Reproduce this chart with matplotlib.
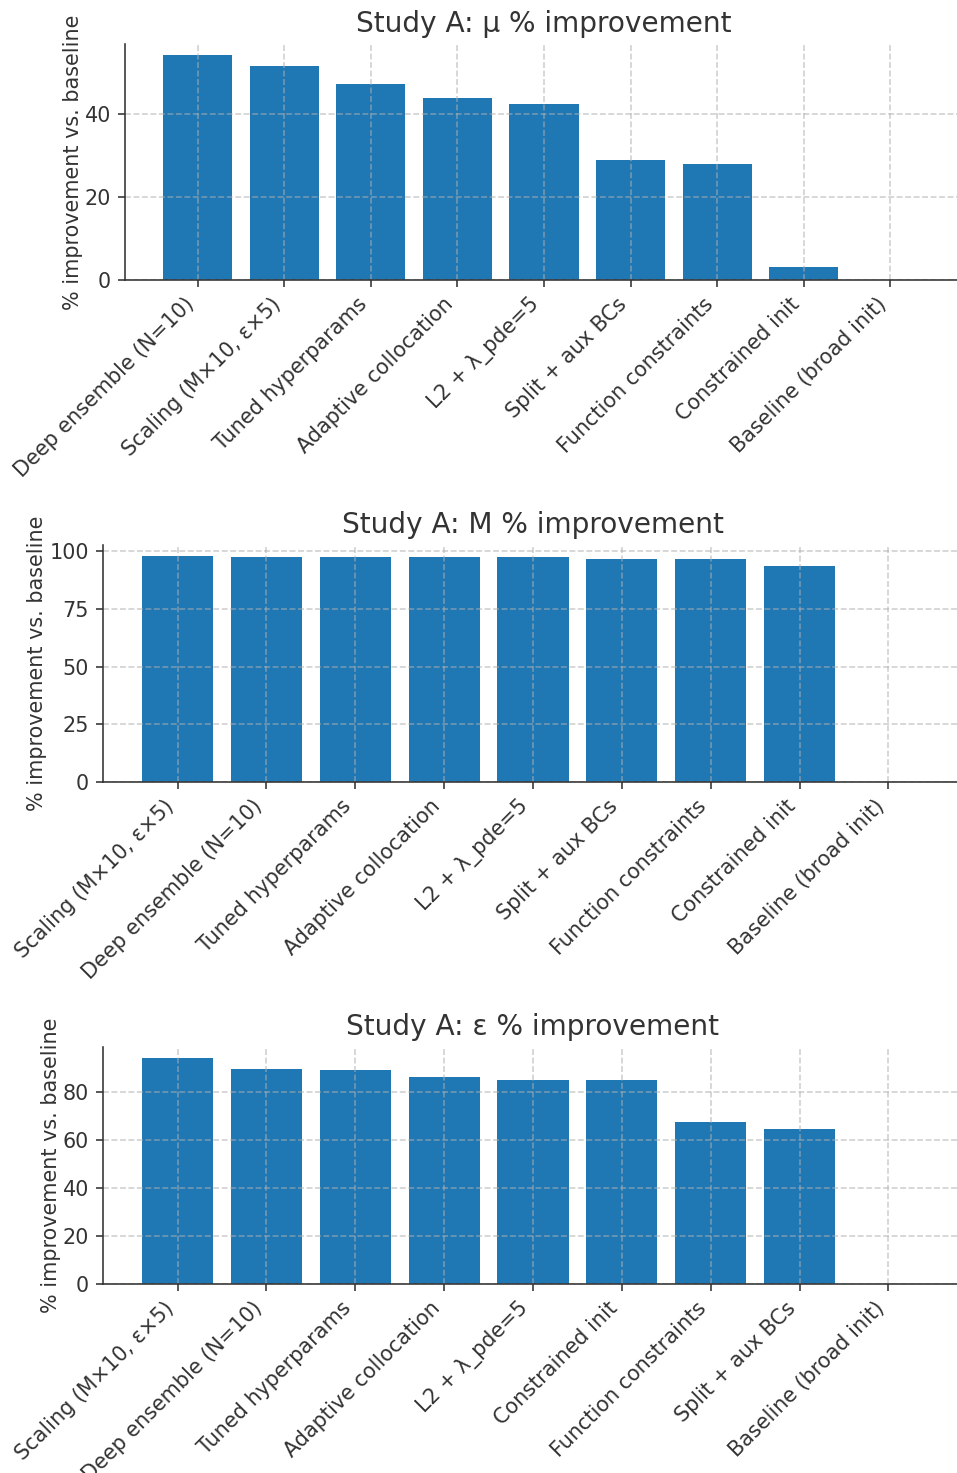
import matplotlib
matplotlib.use('Agg')
import matplotlib.pyplot as plt

# % improvement vs. baseline for each metric, sorted high to low
mu_labels = ['Deep ensemble (N=10)', 'Scaling (M×10, ε×5)', 'Tuned hyperparams',
             'Adaptive collocation', 'L2 + λ_pde=5', 'Split + aux BCs',
             'Function constraints', 'Constrained init', 'Baseline (broad init)']
mu_vals = [54.0, 51.5, 47.0, 43.8, 42.3, 28.9, 27.8, 3.2, 0.0]

M_labels = ['Scaling (M×10, ε×5)', 'Deep ensemble (N=10)', 'Tuned hyperparams',
            'Adaptive collocation', 'L2 + λ_pde=5', 'Split + aux BCs',
            'Function constraints', 'Constrained init', 'Baseline (broad init)']
M_vals = [97.9, 97.6, 97.6, 97.4, 97.4, 96.8, 96.8, 93.6, 0.0]

eps_labels = ['Scaling (M×10, ε×5)', 'Deep ensemble (N=10)', 'Tuned hyperparams',
              'Adaptive collocation', 'L2 + λ_pde=5', 'Constrained init',
              'Function constraints', 'Split + aux BCs', 'Baseline (broad init)']
eps_vals = [94.2, 89.8, 89.5, 86.4, 85.3, 85.0, 67.6, 64.6, 0.0]

TXT = '#333333'
plt.rcParams.update({
    'font.family': 'DejaVu Sans',
    'font.size': 10.4,
    'text.color': TXT,
    'axes.labelcolor': TXT,
    'axes.edgecolor': TXT,
    'xtick.color': TXT,
    'ytick.color': TXT,
})

W, H = 957, 1473
fig = plt.figure(figsize=(W / 144, H / 144), dpi=144)

panels = [
    ('μ', mu_labels, mu_vals, [0, 20, 40], (125, 44, 280)),
    ('M', M_labels, M_vals, [0, 25, 50, 75, 100], (103, 545, 782)),
    ('ε', eps_labels, eps_vals, [0, 20, 40, 60, 80], (103, 1047, 1284)),
]

for name, labels, vals, yt, (left, top, bottom) in panels:
    right = 963
    ax = fig.add_axes([left / W, (H - bottom) / H, (right - left) / W, (bottom - top) / H])
    ax.bar(labels, vals, color='#1f77b4')
    ax.set_title(f'Study A: {name} % improvement', fontsize=14)
    ax.set_ylabel('% improvement vs. baseline', labelpad=1)
    ax.set_yticks(yt)
    plt.setp(ax.get_xticklabels(), rotation=45, ha='right')
    ax.grid(True, linestyle='--', color='#b0b0b0', alpha=0.6, linewidth=0.8)
    ax.spines['top'].set_visible(False)
    ax.spines['right'].set_visible(False)

fig.savefig('out.png', dpi=144, facecolor='white')
